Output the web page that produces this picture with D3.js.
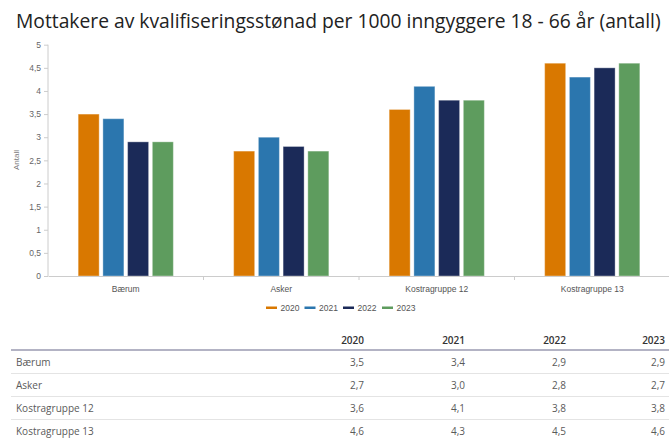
<!DOCTYPE html>
<html><head><meta charset="utf-8">
<script src="https://cdn.jsdelivr.net/npm/d3@7"></script>
<style>
html,body{margin:0;padding:0;background:#fff;}
svg{display:block;}
</style></head>
<body>
<svg id="c" width="669" height="439"></svg>
<script>
const title = "Mottakere av kvalifiseringsstønad per 1000 inngyggere 18 - 66 år (antall)";
const categories = ["Bærum", "Asker", "Kostragruppe 12", "Kostragruppe 13"];
const years = ["2020", "2021", "2022", "2023"];
const values2020 = [3.5, 2.7, 3.6, 4.6];
const values2021 = [3.4, 3.0, 4.1, 4.3];
const values2022 = [2.9, 2.8, 3.8, 4.5];
const values2023 = [2.9, 2.7, 3.8, 4.6];
const yTicks = [0, 0.5, 1, 1.5, 2, 2.5, 3, 3.5, 4, 4.5, 5];
const yLabel = "Antall";
const colors = ["#d97800", "#2b76ae", "#1b2a58", "#5e9c5e"];

const series = [values2020, values2021, values2022, values2023];
const fmt = v => d3.format(".1f")(v).replace(".", ",");
const fmtTick = v => String(v).replace(".", ",");

const svg = d3.select("#c");

// Title (size fitted to the reference width)
const t = svg.append("text").attr("x", 16).attr("y", 28)
  .attr("font-family", "Open Sans").attr("font-size", 18.5).attr("font-weight", 500)
  .attr("fill", "#222").text(title);
const tw = t.node().getComputedTextLength();
t.attr("font-size", 18.5 * 645 / tw);

const x = d3.scaleBand().domain(categories).range([48, 670]);
const xi = d3.scaleBand().domain(years).range([0, x.bandwidth()]).paddingInner(0.15).paddingOuter(1.22);
const y = d3.scaleLinear().domain([0, 5]).range([276, 44.7]);

// Y axis
const yAxis = svg.append("g").attr("transform", "translate(48,0)")
  .call(d3.axisLeft(y).tickValues(yTicks).tickFormat(fmtTick).tickSize(4).tickPadding(3));
yAxis.select(".domain").attr("stroke", "#ccc").attr("d", `M0,${y(5)}V${y(0)}`);
yAxis.selectAll(".tick line").attr("stroke", "#ccc");
yAxis.selectAll(".tick text").attr("font-family", "Liberation Sans, Arial").attr("font-size", 8.5).attr("fill", "#666");

svg.append("text").attr("transform", `translate(19,160) rotate(-90)`)
  .attr("text-anchor", "middle").attr("font-family", "Liberation Sans, Arial")
  .attr("font-size", 8).attr("fill", "#777").text(yLabel);

// Bars
const g = svg.append("g");
categories.forEach((c, ci) => {
  years.forEach((yr, si) => {
    const v = series[si][ci];
    g.append("rect")
      .attr("x", x(c) + xi(yr))
      .attr("y", y(v))
      .attr("width", xi.bandwidth())
      .attr("height", y(0) - y(v))
      .attr("fill", colors[si])
      .attr("stroke", "#fff").attr("stroke-opacity", 0.35).attr("stroke-width", 1);
  });
});

// X axis
const xAxis = svg.append("g").attr("transform", `translate(0,${y(0)})`)
  .call(d3.axisBottom(x).tickSize(0).tickPadding(10));
xAxis.select(".domain").attr("stroke", "#ccc");
xAxis.selectAll(".tick text").attr("font-family", "Liberation Sans, Arial").attr("font-size", 8.5).attr("fill", "#555");
categories.slice(1).forEach(c => {
  xAxis.append("line").attr("x1", x(c)).attr("x2", x(c)).attr("y1", 0).attr("y2", 4).attr("stroke", "#ccc");
});

// Legend
const legX = [266, 304.5, 343, 382];
const leg = svg.append("g");
years.forEach((yr, i) => {
  leg.append("rect").attr("x", legX[i]).attr("y", 306.5).attr("width", 11).attr("height", 2.5).attr("fill", colors[i]);
  leg.append("text").attr("x", legX[i] + 14.5).attr("y", 311).attr("font-family", "Liberation Sans, Arial")
    .attr("font-size", 8.5).attr("fill", "#555").text(yr);
});

// Table
const colRight = [364, 465, 566, 665];
const tf = "Open Sans";
const tb = svg.append("g");
years.forEach((yr, i) => {
  tb.append("text").attr("x", colRight[i]).attr("y", 343.5).attr("text-anchor", "end")
    .attr("font-family", tf).attr("font-size", 10).attr("font-weight", 600).attr("fill", "#333").text(yr);
});
tb.append("line").attr("x1", 11).attr("x2", 669).attr("y1", 350).attr("y2", 350).attr("stroke", "#9a9ab0").attr("stroke-width", 1.5);
const rowY = [362, 385, 408, 431];
categories.forEach((c, ci) => {
  tb.append("text").attr("x", 16).attr("y", rowY[ci] + 3.5).attr("font-family", tf).attr("font-size", 10).attr("fill", "#5a5a5a").text(c);
  series.forEach((s, si) => {
    tb.append("text").attr("x", colRight[si]).attr("y", rowY[ci] + 3.5).attr("text-anchor", "end")
      .attr("font-family", tf).attr("font-size", 10).attr("fill", "#5a5a5a").text(fmt(s[ci]));
  });
  if (ci < categories.length - 1) {
    tb.append("line").attr("x1", 11).attr("x2", 669).attr("y1", rowY[ci] + 11.5).attr("y2", rowY[ci] + 11.5)
      .attr("stroke", "#e4e4e4").attr("stroke-width", 1);
  }
});
</script>
</body></html>
